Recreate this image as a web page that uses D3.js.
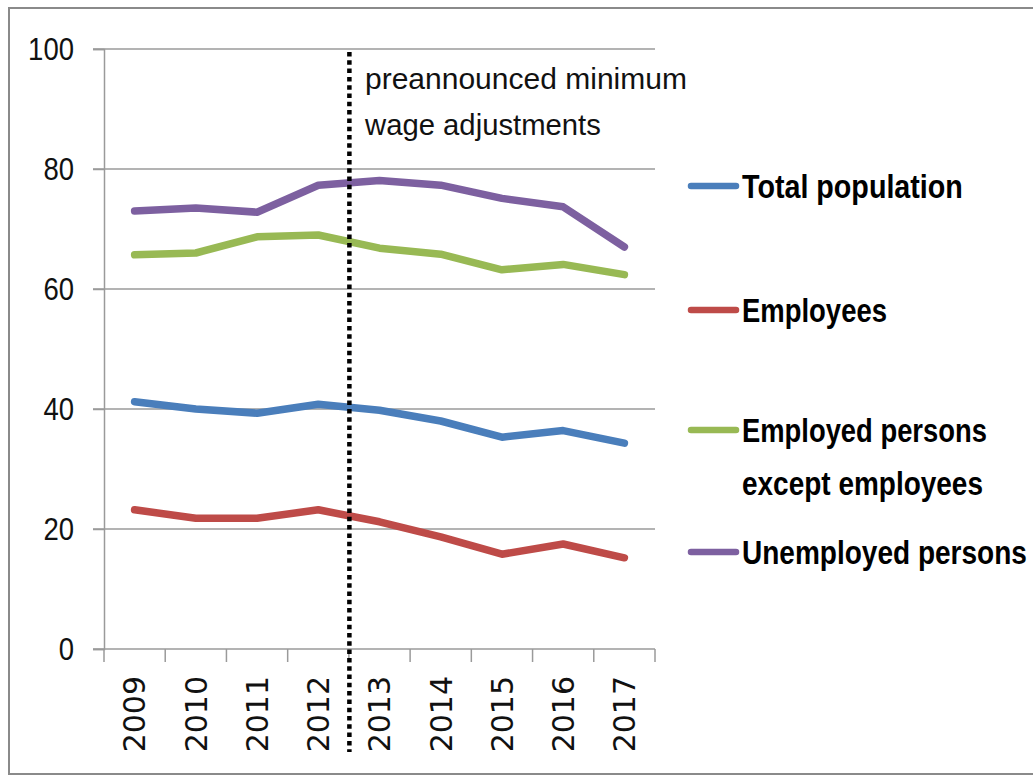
<!DOCTYPE html>
<html>
<head>
<meta charset="utf-8">
<script src="https://cdn.jsdelivr.net/npm/d3@7"></script>
<style>
  html, body { margin: 0; padding: 0; background: #ffffff; }
  svg { display: block; }
</style>
</head>
<body>
<svg id="chart" width="1033" height="779"></svg>
<script>
// Share of persons (%) by group, 2009–2017
const years = ["2009", "2010", "2011", "2012", "2013", "2014", "2015", "2016", "2017"];
const totalPopulation   = [41.2, 40.0, 39.3, 40.8, 39.8, 38.0, 35.3, 36.4, 34.3];
const employees         = [23.2, 21.8, 21.8, 23.2, 21.2, 18.7, 15.8, 17.5, 15.2];
const employedExceptEmp = [65.7, 66.0, 68.7, 69.0, 66.8, 65.8, 63.2, 64.1, 62.4];
const unemployedPersons = [73.0, 73.5, 72.8, 77.3, 78.1, 77.3, 75.1, 73.7, 67.0];
const yTicks = [0, 20, 40, 60, 80, 100];
const seriesNames = ["Total population", "Employees", "Employed persons|except employees", "Unemployed persons"];
const seriesColors = ["#4a7ebb", "#be4b48", "#98b954", "#7d60a0"];
const markerYearAfter = "2013"; // policy change drawn before this year
const annotationLines = ["preannounced minimum", "wage adjustments"];

const series = [totalPopulation, employees, employedExceptEmp, unemployedPersons].map((vals, i) => ({
  name: seriesNames[i], color: seriesColors[i], values: vals
}));

const svg = d3.select("#chart");
const plot = { left: 104, right: 655, top: 49, bottom: 649 };
const sans = "'Liberation Sans', Arial, sans-serif";

// squeeze a text horizontally so it spans the given width (condensed look)
function fitWidth(sel, px, py, width, anchor) {
  sel.attr("x", 0).attr("y", 0);
  const w = sel.node().getComputedTextLength();
  const s = width / w;
  const dx = anchor === "end" ? -width : 0;
  sel.attr("transform", `translate(${px + dx},${py}) scale(${s},1)`);
}

// outer frame
svg.append("rect")
  .attr("x", 9).attr("y", 8).attr("width", 1040).attr("height", 766)
  .attr("fill", "#ffffff").attr("stroke", "#8a8a8a").attr("stroke-width", 2);

const x = d3.scaleBand().domain(years).range([plot.left, plot.right]).paddingInner(0).paddingOuter(0);
const y = d3.scaleLinear().domain([0, 100]).range([plot.bottom, plot.top]);
const cx = d => x(d) + x.bandwidth() / 2;

// horizontal gridlines
svg.append("g").selectAll("line").data(yTicks.filter(t => t > 0)).join("line")
  .attr("x1", plot.left - 11).attr("x2", plot.right)
  .attr("y1", d => y(d)).attr("y2", d => y(d))
  .attr("stroke", "#9a9a9a").attr("stroke-width", 1.5);

// y axis
const yAxis = svg.append("g").attr("transform", `translate(${plot.left},0)`)
  .call(d3.axisLeft(y).tickValues(yTicks).tickSize(11).tickFormat(""));
yAxis.select(".domain").attr("stroke", "#9a9a9a").attr("stroke-width", 1.5);
yAxis.selectAll(".tick line").attr("stroke", "#9a9a9a").attr("stroke-width", 1.5);
const yLab = svg.append("g").attr("font-family", sans).attr("font-size", 31).attr("fill", "#111");
yTicks.forEach(t => {
  const txt = yLab.append("text").attr("dy", "0.36em").text(String(t));
  fitWidth(txt, 74, y(t), String(t).length * 15.3, "end");
});

// x axis: baseline and category boundary ticks
const xAxis = svg.append("g").attr("transform", `translate(0,${plot.bottom})`)
  .call(d3.axisBottom(x).tickSize(0).tickFormat(""));
xAxis.select(".domain").remove();
xAxis.append("line").attr("x1", plot.left - 11).attr("x2", plot.right)
  .attr("stroke", "#9a9a9a").attr("stroke-width", 1.5);
const boundaries = years.map(d => x(d)).concat([x(years[years.length - 1]) + x.bandwidth()]);
xAxis.selectAll(".bound").data(boundaries).join("line").attr("class", "bound")
  .attr("x1", d => d).attr("x2", d => d).attr("y1", 0).attr("y2", 13)
  .attr("stroke", "#9a9a9a").attr("stroke-width", 1.5);
xAxis.selectAll(".yl").data(years).join("text").attr("class", "yl")
  .attr("transform", d => `translate(${cx(d)},27) rotate(-90)`)
  .attr("text-anchor", "end").attr("dy", "0.36em")
  .attr("font-family", "'DejaVu Sans', sans-serif").attr("font-size", 30).attr("fill", "#111")
  .text(d => d);

// series lines
const line = d3.line().x((v, i) => cx(years[i])).y(v => y(v));
svg.append("g").selectAll("path").data(series).join("path")
  .attr("d", s => line(s.values))
  .attr("fill", "none").attr("stroke", s => s.color)
  .attr("stroke-width", 7.5).attr("stroke-linejoin", "round").attr("stroke-linecap", "round");

// dotted marker between 2012 and 2013
const mx = x(markerYearAfter) + 0.5;
svg.append("line")
  .attr("x1", mx).attr("x2", mx).attr("y1", 52).attr("y2", 752)
  .attr("stroke", "#000").attr("stroke-width", 4.5).attr("stroke-dasharray", "4.5,3.8");

const ann = svg.append("g").attr("font-family", sans).attr("font-size", 30).attr("fill", "#111");
fitWidth(ann.append("text").text(annotationLines[0]), 365, 89, 322);
fitWidth(ann.append("text").text(annotationLines[1]), 365, 135, 236);

// legend
const legendY = [186, 310, 430, 552];
const legendW = [[221], [145], [245, 241], [285]];
const lg = svg.append("g");
series.forEach((s, i) => {
  const g = lg.append("g").attr("transform", `translate(0,${legendY[i]})`);
  g.append("line").attr("x1", 691).attr("x2", 736).attr("y1", 0).attr("y2", 0)
    .attr("stroke", s.color).attr("stroke-width", 6.5).attr("stroke-linecap", "round");
  s.name.split("|").forEach((t, j) => {
    const txt = g.append("text")
      .attr("font-family", sans).attr("font-weight", "bold").attr("font-size", 34).attr("fill", "#000")
      .text(t);
    fitWidth(txt, 742, 12 + j * 53, legendW[i][j]);
  });
});
</script>
</body>
</html>
